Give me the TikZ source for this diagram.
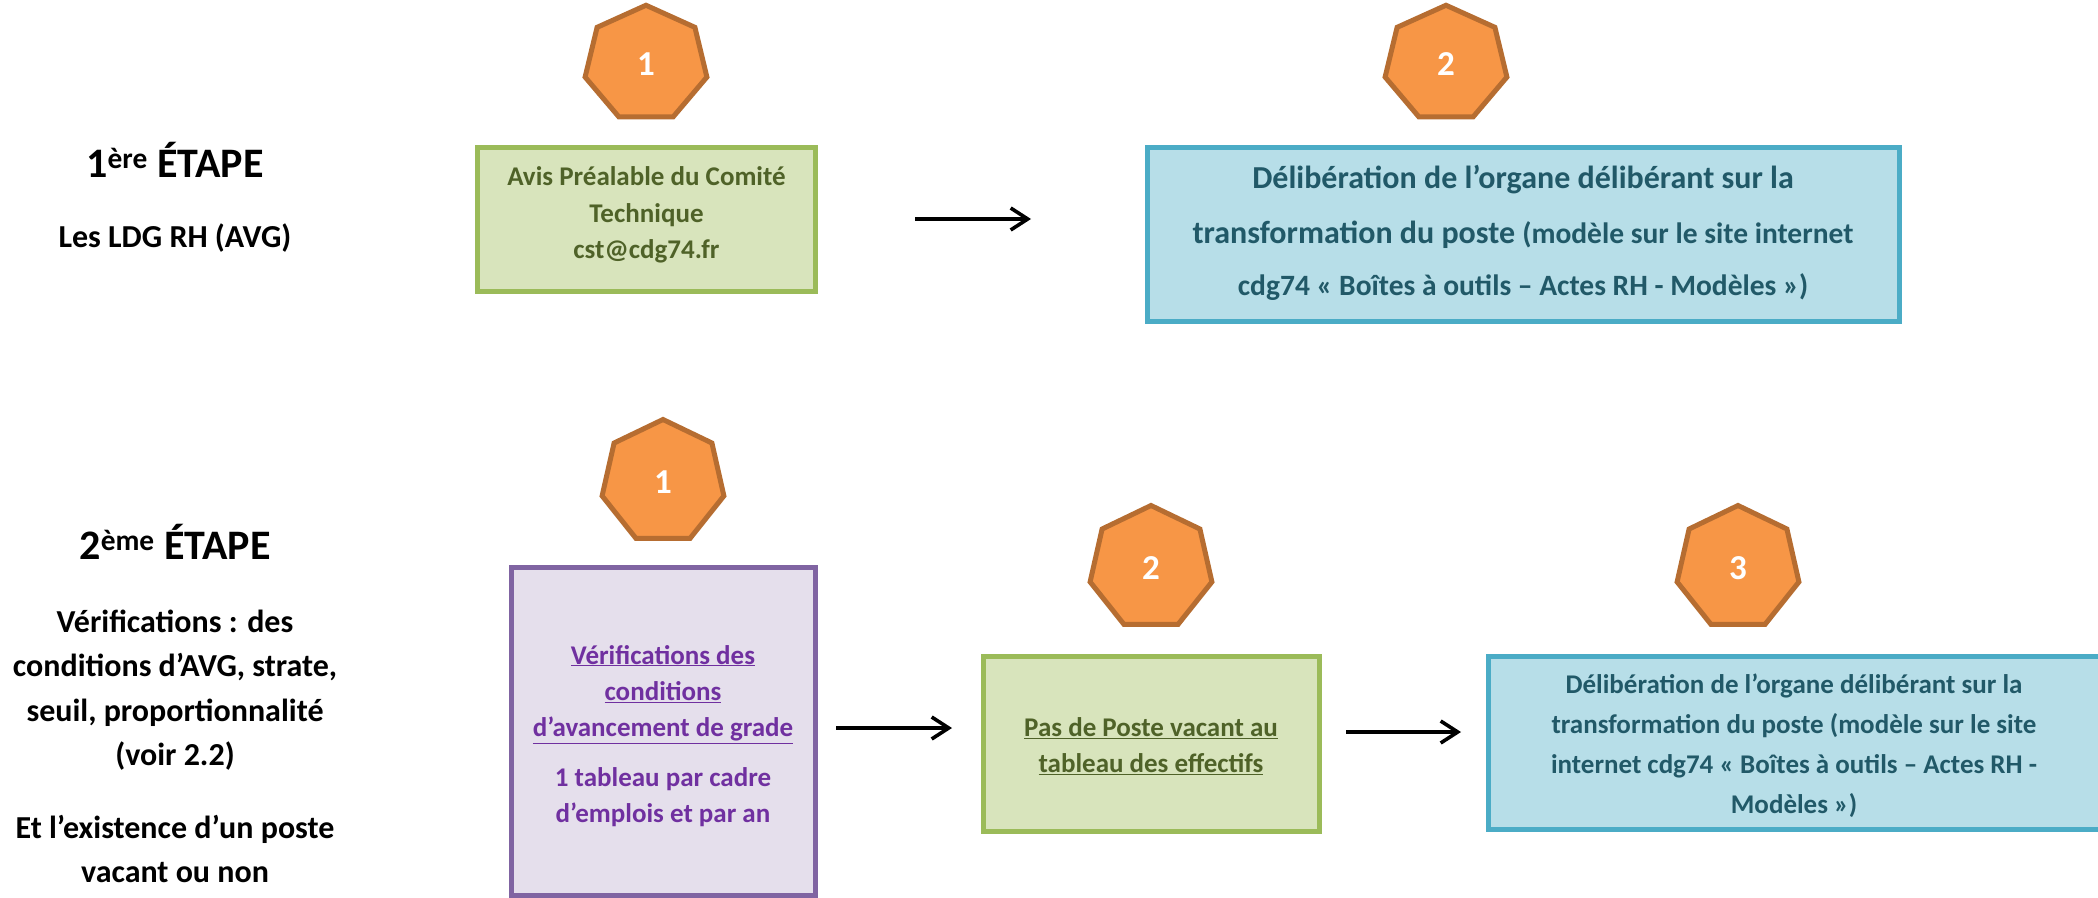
\documentclass[tikz,border=0pt]{standalone}
\usepackage{fontspec}
\setmainfont{Carlito}
\usetikzlibrary{arrows.meta}
\definecolor{orF}{HTML}{F79646}\definecolor{orD}{HTML}{B66D31}
\definecolor{grF}{HTML}{D8E4BC}\definecolor{grD}{HTML}{9BBB59}\definecolor{grT}{HTML}{4F6228}
\definecolor{blF}{HTML}{B7DEE8}\definecolor{blD}{HTML}{4BACC6}\definecolor{blT}{HTML}{215968}
\definecolor{puF}{HTML}{E5DFEC}\definecolor{puD}{HTML}{8064A2}\definecolor{puT}{HTML}{7030A0}
\newcommand{\fs}[2]{\fontsize{#1}{#2}\selectfont}
\newcommand{\ul}[1]{\underline{#1}}
\newcommand{\hepta}[5]{% name, x, y, vertical scale, label
  \draw[heptastyle,shift={(#2,#3)},yscale=#4] (0,-62.5) -- (48.9,-39) -- (60.9,13.9) -- (27.1,56.3) -- (-27.1,56.3) -- (-60.9,13.9) -- (-48.9,-39) -- cycle;
  \node[heptatext] (#1) at (#2,#3) {#5};}
\tikzset{
  heptastyle/.style={draw=orD,fill=orF,line width=5pt,line join=miter},
  heptatext/.style={text=white,font=\bfseries\fs{35}{40}},
  bx/.style={line width=5pt,line join=miter},
  greenbox/.style={bx,draw=grD,fill=grF},
  bluebox/.style={bx,draw=blD,fill=blF},
  purplebox/.style={bx,draw=puD,fill=puF},
  boxtext/.style={align=center,font=\bfseries\fs{27}{36.4},inner sep=0pt},
  lefttext/.style={align=center,font=\bfseries\fs{32}{44.4},inner sep=0pt},
  title/.style={align=center,font=\bfseries\fs{42}{48},inner sep=0pt},
  arrowline/.style={-{Straight Barb[length=17pt,width=22pt,line width=3.6pt]},line width=3.6pt}
}
\begin{document}
\begin{tikzpicture}[x=1pt,y=-1pt]
\useasboundingbox (0,0) rectangle (2098,897);
\hepta{ha}{646}{64}{.94}{1}
\hepta{hb}{1446}{64}{.94}{2}
\hepta{hc}{663}{482}{1}{1}
\hepta{hd}{1151}{568}{1}{2}
\hepta{he}{1738}{568}{1}{3}
\path[greenbox] (477.5,147) rectangle (815.5,291);
\node[boxtext,text=grT] (ga) at (646.5,215) {Avis Préalable du Comité\\Technique\\cst@cdg74.fr};
\path[bluebox] (1147,147) rectangle (1899,321);
\node[boxtext,text=blT] (ba) at (1523,233) {\fs{32}{36}Délibération de l’organe délibérant sur la\\[18pt]\fs{32}{36}transformation du poste \fs{29.5}{36}(modèle sur le site internet\\[16pt]\fs{29.5}{36}cdg74 « Boîtes à outils – Actes RH - Modèles »)};
\path[purplebox] (511,567) rectangle (815,895);
\node[boxtext,text=puT] (pa) at (663,736) {\ul{Vérifications des}\\\ul{conditions}\\\ul{d’avancement de grade}\\[13pt]1 tableau par cadre\\d’emplois et par an};
\path[greenbox] (983,656) rectangle (1319,831);
\node[boxtext,text=grT] (gb) at (1151,746) {\ul{Pas de Poste vacant au}\\\ul{tableau des effectifs}};
\path[bluebox] (1488,656) rectangle (2100,829);
\node[boxtext,text=blT,font=\bfseries\fs{27}{40}] (bb) at (1794,746) {Délibération de l’organe délibérant sur la\\transformation du poste (modèle sur le site\\internet cdg74 « Boîtes à outils – Actes RH -\\Modèles »)};
\node[title] (ta) at (175,160) {1\textsuperscript{ère} ÉTAPE};
\node[lefttext] (tb) at (175,238) {Les LDG RH (AVG)};
\node[title] (tc) at (175,542) {2\textsuperscript{ème} ÉTAPE};
\node[lefttext] (td) at (175,690) {Vérifications : des\\conditions d’AVG, strate,\\seuil, proportionnalité\\(voir 2.2)};
\node[lefttext] (te) at (175,849) {Et l’existence d’un poste\\vacant ou non};
\coordinate (a1) at (915,219);\coordinate (a2) at (1031,219);
\coordinate (b1) at (836,728);\coordinate (b2) at (952,728);
\coordinate (c1) at (1346,732);\coordinate (c2) at (1461,732);
\draw[arrowline] (a1) -- (a2);
\draw[arrowline] (b1) -- (b2);
\draw[arrowline] (c1) -- (c2);
\end{tikzpicture}
\end{document}
